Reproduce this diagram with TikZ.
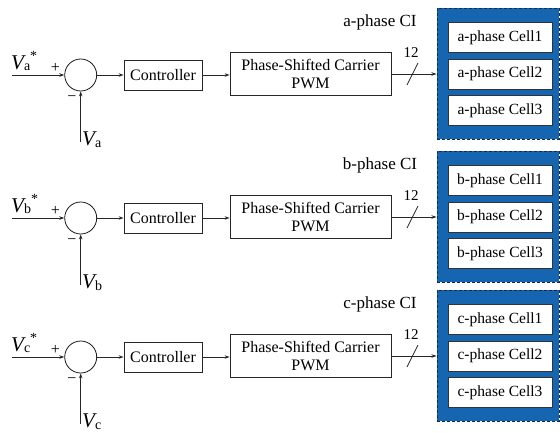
\documentclass[tikz,border=0pt]{standalone}
\usepackage{fontspec}
\setmainfont{Liberation Serif}
\usetikzlibrary{arrows.meta}
\definecolor{ciblue}{RGB}{22,101,176}
\definecolor{ciedge}{RGB}{20,40,80}
\newcommand\Vsym[1]{{\fontsize{21}{21}\selectfont\itshape V}{\fontsize{14}{14}\selectfont\raisebox{-1.5pt}{#1}}}
\newcommand\Vref[1]{\Vsym{#1}{\fontsize{14}{14}\selectfont\raisebox{9pt}{*}}}
\tikzset{
  sig/.style={draw=black!85, line width=0.8pt, -{Stealth[length=5pt,width=3.5pt]}},
  blockbox/.style={draw=black!85, line width=0.8pt, fill=white, inner sep=0pt,
    font=\fontsize{16}{18.5}\selectfont, align=center},
  sumnode/.style={circle, draw=black!90, line width=0.8pt, minimum size=32pt, inner sep=0pt},
  cibox/.style={draw=ciedge, dash pattern=on 3pt off 2pt, line width=1pt, fill=ciblue,
    inner sep=0pt, minimum width=122pt, minimum height=131pt},
  cellbox/.style={draw=black!80, line width=0.8pt, fill=white, inner sep=0pt,
    minimum width=104pt, minimum height=30pt, font=\fontsize{15.5}{18}\selectfont},
  cilabel/.style={font=\fontsize{17}{20}\selectfont},
  signlabel/.style={font=\fontsize{16}{16}\selectfont, inner sep=0pt},
  buslabel/.style={font=\fontsize{15}{15}\selectfont, inner sep=0pt},
  vlabel/.style={anchor=base west, inner sep=0pt},
}
\begin{document}
\begin{tikzpicture}[x=1pt,y=-1pt]
\useasboundingbox (0,0) rectangle (560,432);
\foreach \p/\dy in {a/0,b/143,c/282}{
  % summing junction
  \node[sumnode] (sum\p) at (80.7,75+\dy) {};
  \coordinate (in\p) at (12,75+\dy);
  \coordinate (fb\p) at (80.7,142+\dy);
  \node[vlabel] (vref\p) at (11,69+\dy) {\Vref{\p}};
  \node[vlabel] (vfb\p) at (82,145.5+\dy) {\Vsym{\p}};
  \node[signlabel] (plus\p) at (55.5,68+\dy) {+};
  \node[signlabel] (minus\p) at (72,98.5+\dy) {\textminus};
  % blocks
  \node[blockbox, minimum width=78pt, minimum height=30pt] (ctrl\p) at (163,75+\dy) {Controller};
  \node[blockbox, minimum width=161pt, minimum height=43pt] (pwm\p) at (310.5,74+\dy) {Phase-Shifted Carrier\\PWM};
  % CI
  \node[cibox] (ci\p) at (498,73.5+\dy) {};
  \node[cellbox] (cellA\p) at (500,37.5+\dy) {\p-phase Cell1};
  \node[cellbox] (cellB\p) at (500,74+\dy) {\p-phase Cell2};
  \node[cellbox] (cellC\p) at (500,110.5+\dy) {\p-phase Cell3};
  \node[cilabel] (cilab\p) at (380,22+\dy) {\p-phase CI};
  \node[buslabel] (bus\p) at (411,53+\dy) {12};
  % connectors
  \draw[sig] (in\p) -- (sum\p.west);
  \draw[sig] (fb\p) -- (sum\p.south);
  \draw[sig] (sum\p.east) -- (ctrl\p.west);
  \draw[sig] (ctrl\p.east) -- (ctrl\p.east -| pwm\p.west);
  \draw[sig] (pwm\p.east) -- (pwm\p.east -| ci\p.west);
  \draw[draw=black!85, line width=0.8pt] (418,63+\dy) -- (407,85+\dy);
}
\end{tikzpicture}
\end{document}
